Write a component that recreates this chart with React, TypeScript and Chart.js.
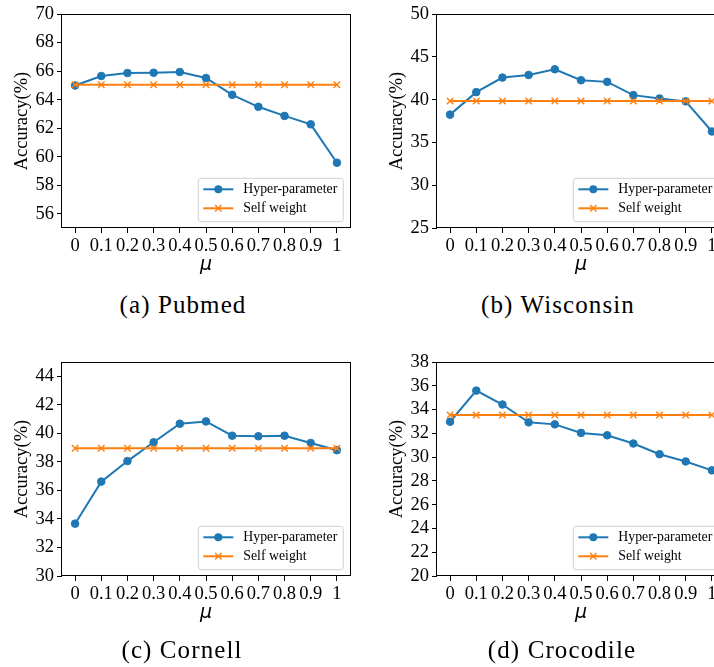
import React, { useEffect, useRef } from "react";
import { Chart, registerables } from "chart.js";

Chart.register(...registerables);

// ---------- data ----------
const MU = [0, 0.1, 0.2, 0.3, 0.4, 0.5, 0.6, 0.7, 0.8, 0.9, 1];
const MU_LABELS = ["0", "0.1", "0.2", "0.3", "0.4", "0.5", "0.6", "0.7", "0.8", "0.9", "1"];
const SERIES_LABELS = ["Hyper-parameter", "Self weight"];

const PUBMED_HYPER = [64.99, 65.66, 65.87, 65.89, 65.94, 65.52, 64.34, 63.5, 62.86, 62.27, 59.58];
const PUBMED_SELF = [65.05, 65.05, 65.05, 65.05, 65.05, 65.05, 65.05, 65.05, 65.05, 65.05, 65.05];
const PUBMED_Y_TICKS = [56, 58, 60, 62, 64, 66, 68, 70];

const WISCONSIN_HYPER = [38.25, 40.88, 42.58, 42.89, 43.55, 42.27, 42.08, 40.53, 40.14, 39.8, 36.28];
const WISCONSIN_SELF = [39.85, 39.85, 39.85, 39.85, 39.85, 39.85, 39.85, 39.85, 39.85, 39.85, 39.85];
const WISCONSIN_Y_TICKS = [25, 30, 35, 40, 45, 50];

const CORNELL_HYPER = [33.67, 36.62, 38.06, 39.38, 40.68, 40.84, 39.84, 39.8, 39.84, 39.33, 38.82];
const CORNELL_SELF = [38.96, 38.96, 38.96, 38.96, 38.96, 38.96, 38.96, 38.96, 38.96, 38.96, 38.96];
const CORNELL_Y_TICKS = [30, 32, 34, 36, 38, 40, 42, 44];

const CROCODILE_HYPER = [32.98, 35.6, 34.43, 32.93, 32.76, 32.04, 31.84, 31.15, 30.25, 29.64, 28.89];
const CROCODILE_SELF = [33.54, 33.54, 33.54, 33.54, 33.54, 33.54, 33.54, 33.54, 33.54, 33.54, 33.54];
const CROCODILE_Y_TICKS = [20, 22, 24, 26, 28, 30, 32, 34, 36, 38];

const BLUE = "#1f77b4";
const ORANGE = "#ff7f0e";
const SERIF = '"Liberation Serif", "Times New Roman", serif';

const CANVAS_W = 357;
const CANVAS_H = 290;

const framePlugin = {
  id: "frameAndLegend",
  afterDraw(chart: any) {
    const { ctx, chartArea: ca } = chart;
    ctx.save();
    // frame (spines)
    ctx.strokeStyle = "#000";
    ctx.lineWidth = 1;
    ctx.strokeRect(Math.round(ca.left) - 0.5, Math.round(ca.top) + 0.5, Math.round(ca.right - ca.left) + 1, Math.round(ca.bottom - ca.top) - 1);

    // legend
    const w = 145;
    const h = 43.4;
    const x0 = ca.right - 6.7 - w;
    const y0 = ca.bottom - 6.3 - h;
    ctx.beginPath();
    const r = 3;
    ctx.moveTo(x0 + r, y0);
    ctx.lineTo(x0 + w - r, y0);
    ctx.quadraticCurveTo(x0 + w, y0, x0 + w, y0 + r);
    ctx.lineTo(x0 + w, y0 + h - r);
    ctx.quadraticCurveTo(x0 + w, y0 + h, x0 + w - r, y0 + h);
    ctx.lineTo(x0 + r, y0 + h);
    ctx.quadraticCurveTo(x0, y0 + h, x0, y0 + h - r);
    ctx.lineTo(x0, y0 + r);
    ctx.quadraticCurveTo(x0, y0, x0 + r, y0);
    ctx.closePath();
    ctx.fillStyle = "rgba(255,255,255,0.8)";
    ctx.fill();
    ctx.strokeStyle = "#d0d0d0";
    ctx.lineWidth = 1;
    ctx.stroke();

    const ds = chart.data.datasets;
    const rows = [
      { label: ds[1].label, color: BLUE, marker: "circle", y: y0 + 11 },
      { label: ds[0].label, color: ORANGE, marker: "x", y: y0 + 30 },
    ];
    rows.forEach((row) => {
      ctx.strokeStyle = row.color;
      ctx.lineWidth = 2;
      ctx.beginPath();
      ctx.moveTo(x0 + 5, row.y);
      ctx.lineTo(x0 + 35, row.y);
      ctx.stroke();
      const mx = x0 + 20;
      if (row.marker === "circle") {
        ctx.fillStyle = row.color;
        ctx.beginPath();
        ctx.arc(mx, row.y, 4, 0, Math.PI * 2);
        ctx.fill();
      } else {
        ctx.lineWidth = 1.4;
        ctx.beginPath();
        ctx.moveTo(mx - 3.2, row.y - 3.2);
        ctx.lineTo(mx + 3.2, row.y + 3.2);
        ctx.moveTo(mx - 3.2, row.y + 3.2);
        ctx.lineTo(mx + 3.2, row.y - 3.2);
        ctx.stroke();
      }
      ctx.fillStyle = "#000";
      ctx.font = `13.8px ${SERIF}`;
      ctx.textBaseline = "middle";
      ctx.textAlign = "left";
      ctx.fillText(row.label, x0 + 45, row.y + 0.5);
    });
    ctx.restore();
  },
};

type PanelProps = {
  left: number;
  top: number;
  yMin: number;
  yMax: number;
  yTicks: number[];
  hyper: number[];
  self: number[];
};

function Panel({ left, top, yMin, yMax, yTicks, hyper, self }: PanelProps) {
  const ref = useRef<HTMLCanvasElement | null>(null);
  useEffect(() => {
    if (!ref.current) return;
    const chart = new Chart(ref.current, {
      type: "line",
      data: {
        datasets: [
          {
            label: SERIES_LABELS[1],
            data: MU.map((x, i) => ({ x, y: self[i] })),
            borderColor: ORANGE,
            backgroundColor: ORANGE,
            borderWidth: 2,
            pointStyle: "crossRot",
            pointRadius: 4.6,
            pointBorderWidth: 1.4,
            pointBorderColor: ORANGE,
            order: 1,
          },
          {
            label: SERIES_LABELS[0],
            data: MU.map((x, i) => ({ x, y: hyper[i] })),
            borderColor: BLUE,
            backgroundColor: BLUE,
            borderWidth: 2,
            pointStyle: "circle",
            pointRadius: 3.8,
            pointBorderWidth: 1,
            pointBackgroundColor: BLUE,
            pointBorderColor: BLUE,
            order: 2,
          },
        ],
      } as any,
      options: {
        animation: false,
        responsive: false,
        devicePixelRatio: 1,
        layout: { padding: { left: 0, top: 13, right: 7, bottom: 0 } },
        plugins: { legend: { display: false }, tooltip: { enabled: false } },
        elements: { line: { tension: 0 } },
        scales: {
          x: {
            type: "linear",
            min: -0.05,
            max: 1.05,
            afterBuildTicks: (scale: any) => {
              scale.ticks = MU.map((v) => ({ value: v }));
            },
            afterFit: (scale: any) => {
              scale.height = CANVAS_H - 228;
            },
            ticks: {
              autoSkip: false,
              maxRotation: 0,
              minRotation: 0,
              padding: 2,
              color: "#000",
              font: { family: SERIF, size: 18.5 },
              callback: (_v: any, i: number) => MU_LABELS[i],
            },
            grid: { drawOnChartArea: false, drawTicks: true, tickLength: 5, color: "#000", tickColor: "#000" },
            border: { display: false },
            title: {
              display: true,
              text: "μ",
              color: "#000",
              font: { family: '"DejaVu Sans", sans-serif', size: 19, style: "italic" },
              padding: { top: 0, bottom: 13.6 },
            },
          },
          y: {
            type: "linear",
            min: yMin,
            max: yMax,
            afterBuildTicks: (scale: any) => {
              scale.ticks = yTicks.map((v) => ({ value: v }));
            },
            afterFit: (scale: any) => {
              scale.width = 62;
            },
            ticks: {
              autoSkip: false,
              padding: 3,
              color: "#000",
              font: { family: SERIF, size: 18.5 },
              callback: (v: any) => String(v),
            },
            grid: { drawOnChartArea: false, drawTicks: true, tickLength: 5, color: "#000", tickColor: "#000" },
            border: { display: false },
            title: {
              display: true,
              text: "Accuracy(%)",
              color: "#000",
              font: { family: SERIF, size: 18.5 },
              padding: { top: 11, bottom: 0 },
            },
          },
        },
      } as any,
      plugins: [framePlugin],
    });
    return () => chart.destroy();
  }, []);
  return (
    <canvas
      ref={ref}
      width={CANVAS_W}
      height={CANVAS_H}
      style={{ position: "absolute", left, top, width: CANVAS_W, height: CANVAS_H }}
    />
  );
}

function Caption({ cx, top, text }: { cx: number; top: number; text: string }) {
  return (
    <div
      style={{
        position: "absolute",
        left: cx - 150,
        top,
        width: 300,
        textAlign: "center",
        fontFamily: SERIF,
        fontSize: 25,
        lineHeight: "30px",
        letterSpacing: "1.1px",
        color: "#000",
        whiteSpace: "nowrap",
      }}
    >
      {text}
    </div>
  );
}

export default function App() {
  return (
    <div
      style={{
        position: "fixed",
        left: 0,
        top: 0,
        width: 714,
        height: 667,
        overflow: "hidden",
        background: "#fff",
      }}
    >
      <Panel left={0} top={0} yMin={55} yMax={70} yTicks={PUBMED_Y_TICKS} hyper={PUBMED_HYPER} self={PUBMED_SELF} />
      <Panel left={375} top={0} yMin={25} yMax={50} yTicks={WISCONSIN_Y_TICKS} hyper={WISCONSIN_HYPER} self={WISCONSIN_SELF} />
      <Panel left={0} top={348} yMin={30} yMax={45} yTicks={CORNELL_Y_TICKS} hyper={CORNELL_HYPER} self={CORNELL_SELF} />
      <Panel left={375} top={348} yMin={20} yMax={38} yTicks={CROCODILE_Y_TICKS} hyper={CROCODILE_HYPER} self={CROCODILE_SELF} />
      <Caption cx={183} top={290} text="(a) Pubmed" />
      <Caption cx={558} top={290} text="(b) Wisconsin" />
      <Caption cx={182} top={635} text="(c) Cornell" />
      <Caption cx={562} top={635} text="(d) Crocodile" />
    </div>
  );
}
